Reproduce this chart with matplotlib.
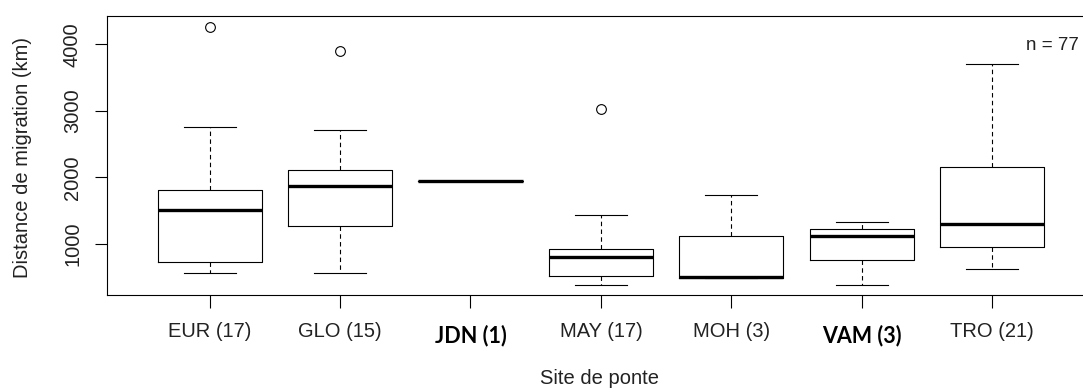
import matplotlib
matplotlib.use("Agg")
from matplotlib import pyplot as plt
from matplotlib.transforms import ScaledTranslation

# values (km)
sites = ["EUR (17)", "GLO (15)", "JDN (1)", "MAY (17)", "MOH (3)", "VAM (3)", "TRO (21)"]
bold_sites = ["JDN (1)", "VAM (3)"]
whis_lo = [564, 560, 1948, 379, 480, 384, 615]
q1 = [720, 1262, 1948, 510, 480, 760, 951]
medians = [1512, 1873, 1948, 796, 495, 1121, 1292]
q3 = [1808, 2114, 1948, 925, 1112, 1226, 2150]
whis_hi = [2751, 2711, 1948, 1432, 1728, 1327, 3704]
outliers = [[4261], [3900], [], [3027], [], [], []]
yticks = [1000, 2000, 3000, 4000]
n_total = 77

plt.rcParams["font.family"] = ["Liberation Sans", "DejaVu Sans"]
txt_col = "#222222"

fig = plt.figure(figsize=(10.83, 3.92), dpi=100)
ax = fig.add_axes([107 / 1083, 97 / 392, 976 / 1083, 279 / 392])

stats = []
for i in range(len(sites)):
    stats.append(dict(med=medians[i], q1=q1[i], q3=q3[i],
                      whislo=whis_lo[i], whishi=whis_hi[i],
                      fliers=outliers[i], label=sites[i]))

lw = 0.8
ax.bxp(stats, positions=range(1, len(sites) + 1), widths=0.8,
       boxprops=dict(color="black", linewidth=lw),
       whiskerprops=dict(color="black", linewidth=lw, linestyle=(0, (4, 3))),
       capprops=dict(color="black", linewidth=lw),
       medianprops=dict(color="black", linewidth=2.4, solid_capstyle="butt"),
       flierprops=dict(marker="o", markerfacecolor="none", markeredgecolor="black",
                       markersize=7, markeredgewidth=lw),
       capwidths=0.4)

ax.set_xlim(0.2125, 7.697)
ax.set_ylim(229, 4426)
ax.set_yticks(yticks)
ax.set_yticklabels([str(v) for v in yticks], rotation=90, va="center")
ax.set_xticks(range(1, len(sites) + 1))
ax.set_xticklabels(sites)

ax.tick_params(axis="both", length=9, width=lw, color="black", labelsize=14.5,
               labelcolor=txt_col)
ax.tick_params(axis="x", pad=10.5)
ax.tick_params(axis="y", pad=9)

# the bold labels sit a few pixels lower in the reference
shift = ScaledTranslation(0, -3 / 100, fig.dpi_scale_trans)
for lab in ax.get_xticklabels():
    if lab.get_text() in bold_sites:
        lab.set_fontfamily(["Lato", "DejaVu Sans"])
        lab.set_fontweight("bold")
        lab.set_fontsize(15.5)
        lab.set_color("black")
        lab.set_transform(lab.get_transform() + shift)

for side in ["left", "bottom", "top"]:
    ax.spines[side].set_linewidth(lw)
    ax.spines[side].set_color("black")
ax.spines["right"].set_visible(False)

ax.text(7.26, 3975, "n = " + str(n_total), ha="left", va="center",
        fontsize=13.5, color=txt_col)

fig.text(23 / 1083, 1 - 157 / 392, "Distance de migration (km)", rotation=90,
         ha="center", va="center", fontsize=14.5, color=txt_col)
fig.text(600 / 1083, 1 - 384 / 392, "Site de ponte", ha="center", va="baseline",
         fontsize=14.5, color=txt_col)

fig.savefig("out.png", dpi=100)
